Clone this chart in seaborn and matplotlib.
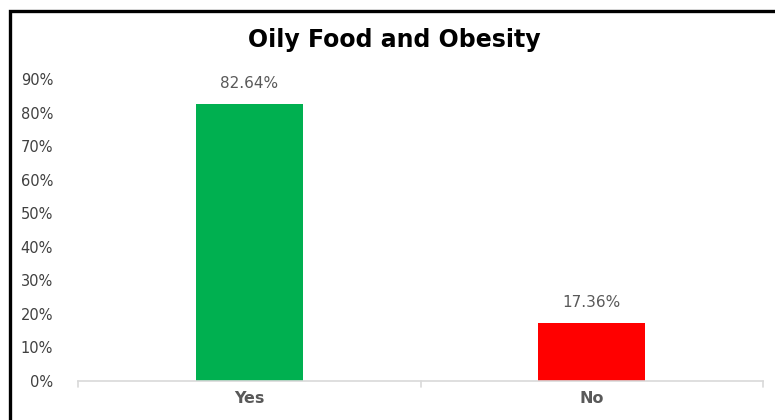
import matplotlib
matplotlib.use("Agg")
import matplotlib.pyplot as plt
import matplotlib.patches as mpatches
from matplotlib.ticker import PercentFormatter, FixedLocator
import seaborn as sns
import pandas as pd

categories = ["Yes", "No"]
values = [82.64, 17.36]
colors = ["#00B050", "#FF0000"]
title = "Oily Food and Obesity"

sns.set_theme(style="white")
plt.rcParams['font.family'] = ['DejaVu Sans']

df = pd.DataFrame({"answer": categories, "pct": [v / 100 for v in values]})

fig = plt.figure(figsize=(7.75, 4.2), dpi=100)
ax = fig.add_axes([78 / 775, 1 - 381 / 420, (763 - 78) / 775, (381 - 79) / 420])

sns.barplot(data=df, x="answer", y="pct", hue="answer", palette=colors,
            order=categories, hue_order=categories, width=0.312,
            legend=False, ax=ax, saturation=1, linewidth=0)

ax.set_ylim(0, 0.9)
ax.set_xlim(-0.5, 1.5)
ax.yaxis.set_major_locator(FixedLocator([i / 10 for i in range(10)]))
ax.yaxis.set_major_formatter(PercentFormatter(1.0, decimals=0))
ax.set_xlabel("")
ax.set_ylabel("")

for s in ["top", "right", "left"]:
    ax.spines[s].set_visible(False)
ax.spines["bottom"].set_color("#d9d9d9")
ax.spines["bottom"].set_linewidth(1.2)

ax.tick_params(axis="y", length=0, labelsize=10.5, labelcolor="#404040", pad=18)
ax.tick_params(axis="x", length=0, labelsize=11.5, labelcolor="#595959", pad=7)
for lbl in ax.get_xticklabels():
    lbl.set_fontweight("bold")

# category boundary ticks
for xb in [-0.5, 0.5, 1.5]:
    ax.plot([xb, xb], [0, -0.018], color="#d9d9d9", lw=1.2, clip_on=False)

for i, v in enumerate(values):
    ax.annotate(f"{v:.2f}%", xy=(i, v / 100), xytext=(0, 9),
                textcoords="offset points", ha="center", va="bottom",
                fontsize=11, color="#595959")

fig.text(394 / 775, 1 - 40 / 420, title, ha="center", va="center",
         fontsize=17, fontweight="bold", color="#000000")

# outer chart border
fig.patches.append(mpatches.Rectangle((9.5 / 775, -0.05), 1.0, 1 - 11 / 420 + 0.05,
                                      transform=fig.transFigure, fill=False,
                                      edgecolor="black", linewidth=2.4))

fig.savefig("out.png", dpi=100)
